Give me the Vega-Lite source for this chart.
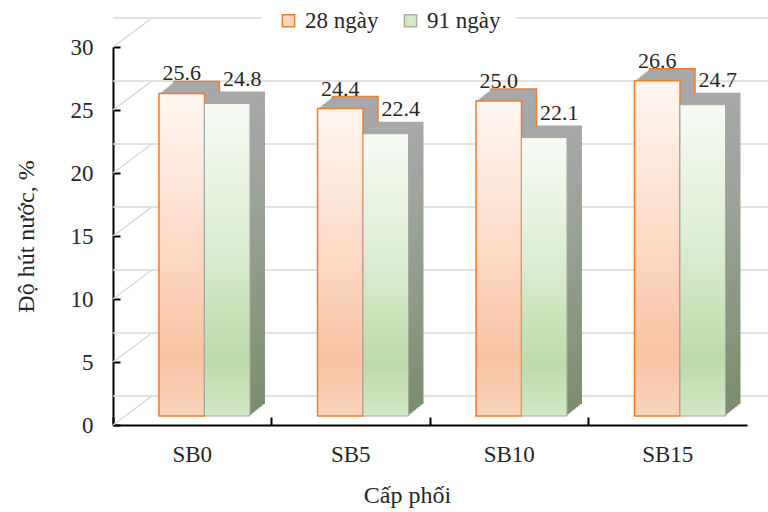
{
  "$schema": "https://vega.github.io/schema/vega-lite/v6.json",
  "width": 634,
  "height": 378,
  "autosize": {"type": "none"},
  "padding": {"left": 113, "top": 47, "right": 21, "bottom": 87},
  "background": "white",
  "config": {
    "view": {"stroke": null},
    "font": "Liberation Serif, Times New Roman, Times, DejaVu Serif, serif",
    "axis": {
      "labelFont": "Liberation Serif, Times New Roman, Times, DejaVu Serif, serif",
      "titleFont": "Liberation Serif, Times New Roman, Times, DejaVu Serif, serif",
      "labelColor": "#262626",
      "titleColor": "#262626",
      "titleFontWeight": "normal",
      "labelFontSize": 23,
      "titleFontSize": 24,
      "domainColor": "#000000",
      "domainWidth": 2,
      "tickColor": "#000000",
      "tickWidth": 2,
      "grid": false
    }
  },
  "layer": [
    {
      "data": {"values": [{"v": 0}, {"v": 5}, {"v": 10}, {"v": 15}, {"v": 20}, {"v": 25}, {"v": 30}]},
      "layer": [
        {
          "mark": {"type": "rule", "color": "#d9d9d9", "strokeWidth": 1.5, "xOffset": 39, "x2Offset": 39, "yOffset": -29, "y2Offset": -29},
          "encoding": {
            "y": {
              "field": "v", "type": "quantitative",
              "scale": {"domain": [0, 30]},
              "axis": {"title": "Độ hút nước, %", "values": [0, 5, 10, 15, 20, 25, 30], "tickSize": -7, "labelPadding": 27, "titlePadding": 32}
            }
          }
        },
        {
          "mark": {"type": "rule", "color": "#d9d9d9", "strokeWidth": 1.5, "y2Offset": -29},
          "encoding": {
            "x": {"value": 0},
            "x2": {"value": 39},
            "y": {"field": "v", "type": "quantitative"},
            "y2": {"field": "v"}
          }
        }
      ]
    },
    {
      "data": {
        "values": [
          {"cp": "SB0", "series": "28 ngày", "v": 25.6},
          {"cp": "SB0", "series": "91 ngày", "v": 24.8},
          {"cp": "SB5", "series": "28 ngày", "v": 24.4},
          {"cp": "SB5", "series": "91 ngày", "v": 22.4},
          {"cp": "SB10", "series": "28 ngày", "v": 25.0},
          {"cp": "SB10", "series": "91 ngày", "v": 22.1},
          {"cp": "SB15", "series": "28 ngày", "v": 26.6},
          {"cp": "SB15", "series": "91 ngày", "v": 24.7}
        ]
      },
      "encoding": {
        "x": {
          "field": "cp", "type": "nominal", "sort": ["SB0", "SB5", "SB10", "SB15"],
          "scale": {"paddingInner": 0, "paddingOuter": 0},
          "axis": {"title": "Cấp phối", "labelAngle": 0, "bandPosition": 0, "tickSize": -8, "labelPadding": 26, "titlePadding": 17, "titleX": 294}
        },
        "y": {"field": "v", "type": "quantitative"}
      },
      "layer": [
        {
          "mark": {"type": "bar", "opacity": 0, "width": {"band": 0.287}},
          "encoding": {
            "y": {"field": "v", "type": "quantitative", "stack": null},
            "fill": {
              "field": "series", "type": "nominal",
              "scale": {"domain": ["28 ngày", "91 ngày"], "range": ["#fad6c1", "#d4e8c6"]},
              "legend": {"orient": "none", "legendX": 149, "legendY": -53, "direction": "horizontal", "title": null, "fillColor": "white", "padding": 15, "symbolType": "square", "symbolSize": 150, "symbolStrokeWidth": 1.5, "symbolOpacity": 1, "labelFontSize": 23, "labelFont": "Liberation Serif, Times New Roman, Times, DejaVu Serif, serif", "labelColor": "#262626", "columnPadding": 20, "labelOffset": 5}
            },
            "stroke": {
              "field": "series", "type": "nominal",
              "scale": {"domain": ["28 ngày", "91 ngày"], "range": ["#ed7d31", "#a9b59e"]},
              "legend": {"orient": "none", "legendX": 149, "legendY": -53, "direction": "horizontal", "title": null, "fillColor": "white", "padding": 15, "symbolType": "square", "symbolSize": 150, "symbolStrokeWidth": 1.5, "symbolOpacity": 1, "labelFontSize": 23, "labelFont": "Liberation Serif, Times New Roman, Times, DejaVu Serif, serif", "labelColor": "#262626", "columnPadding": 20, "labelOffset": 5}
            }
          }
        },
        {
          "transform": [{"filter": "datum.series == '28 ngày'"}],
          "layer": [
            {"mark": {"type": "bar", "width": {"band": 0.287}, "xOffset": 4.5, "yOffset": -21, "y2Offset": -21, "stroke": "#ed7d31", "strokeWidth": 1.5, "fill": {"gradient": "linear", "x1": 0, "y1": 0, "x2": 0, "y2": 1, "stops": [{"offset": 0, "color": "#a8a8a8"}, {"offset": 1, "color": "#a39a94"}]}}},
            {"mark": {"type": "bar", "width": {"band": 0.287}, "xOffset": 2.625, "yOffset": -19.5, "y2Offset": -19.5, "fill": {"gradient": "linear", "x1": 0, "y1": 0, "x2": 0, "y2": 1, "stops": [{"offset": 0, "color": "#a8a8a8"}, {"offset": 1, "color": "#a39a94"}]}}},
            {"mark": {"type": "bar", "width": {"band": 0.287}, "xOffset": 0.75, "yOffset": -18, "y2Offset": -18, "fill": {"gradient": "linear", "x1": 0, "y1": 0, "x2": 0, "y2": 1, "stops": [{"offset": 0, "color": "#a8a8a8"}, {"offset": 1, "color": "#a39a94"}]}}},
            {"mark": {"type": "bar", "width": {"band": 0.287}, "xOffset": -1.125, "yOffset": -16.5, "y2Offset": -16.5, "fill": {"gradient": "linear", "x1": 0, "y1": 0, "x2": 0, "y2": 1, "stops": [{"offset": 0, "color": "#a8a8a8"}, {"offset": 1, "color": "#a39a94"}]}}},
            {"mark": {"type": "bar", "width": {"band": 0.287}, "xOffset": -3, "yOffset": -15, "y2Offset": -15, "fill": {"gradient": "linear", "x1": 0, "y1": 0, "x2": 0, "y2": 1, "stops": [{"offset": 0, "color": "#a8a8a8"}, {"offset": 1, "color": "#a39a94"}]}}},
            {"mark": {"type": "bar", "width": {"band": 0.287}, "xOffset": -4.875, "yOffset": -13.5, "y2Offset": -13.5, "fill": {"gradient": "linear", "x1": 0, "y1": 0, "x2": 0, "y2": 1, "stops": [{"offset": 0, "color": "#a8a8a8"}, {"offset": 1, "color": "#a39a94"}]}}},
            {"mark": {"type": "bar", "width": {"band": 0.287}, "xOffset": -6.75, "yOffset": -12, "y2Offset": -12, "fill": {"gradient": "linear", "x1": 0, "y1": 0, "x2": 0, "y2": 1, "stops": [{"offset": 0, "color": "#a8a8a8"}, {"offset": 1, "color": "#a39a94"}]}}},
            {"mark": {"type": "bar", "width": {"band": 0.287}, "xOffset": -8.625, "yOffset": -10.5, "y2Offset": -10.5, "fill": {"gradient": "linear", "x1": 0, "y1": 0, "x2": 0, "y2": 1, "stops": [{"offset": 0, "color": "#a8a8a8"}, {"offset": 1, "color": "#a39a94"}]}}}
          ]
        },
        {
          "transform": [{"filter": "datum.series == '91 ngày'"}],
          "layer": [
            {"mark": {"type": "bar", "width": {"band": 0.287}, "xOffset": 50, "yOffset": -21, "y2Offset": -21, "fill": {"gradient": "linear", "x1": 0, "y1": 0, "x2": 0, "y2": 1, "stops": [{"offset": 0, "color": "#a8a8a8"}, {"offset": 0.3, "color": "#9da39a"}, {"offset": 1, "color": "#7a8e6c"}]}}},
            {"mark": {"type": "bar", "width": {"band": 0.287}, "xOffset": 48.125, "yOffset": -19.5, "y2Offset": -19.5, "fill": {"gradient": "linear", "x1": 0, "y1": 0, "x2": 0, "y2": 1, "stops": [{"offset": 0, "color": "#a8a8a8"}, {"offset": 0.3, "color": "#9da39a"}, {"offset": 1, "color": "#7a8e6c"}]}}},
            {"mark": {"type": "bar", "width": {"band": 0.287}, "xOffset": 46.25, "yOffset": -18, "y2Offset": -18, "fill": {"gradient": "linear", "x1": 0, "y1": 0, "x2": 0, "y2": 1, "stops": [{"offset": 0, "color": "#a8a8a8"}, {"offset": 0.3, "color": "#9da39a"}, {"offset": 1, "color": "#7a8e6c"}]}}},
            {"mark": {"type": "bar", "width": {"band": 0.287}, "xOffset": 44.375, "yOffset": -16.5, "y2Offset": -16.5, "fill": {"gradient": "linear", "x1": 0, "y1": 0, "x2": 0, "y2": 1, "stops": [{"offset": 0, "color": "#a8a8a8"}, {"offset": 0.3, "color": "#9da39a"}, {"offset": 1, "color": "#7a8e6c"}]}}},
            {"mark": {"type": "bar", "width": {"band": 0.287}, "xOffset": 42.5, "yOffset": -15, "y2Offset": -15, "fill": {"gradient": "linear", "x1": 0, "y1": 0, "x2": 0, "y2": 1, "stops": [{"offset": 0, "color": "#a8a8a8"}, {"offset": 0.3, "color": "#9da39a"}, {"offset": 1, "color": "#7a8e6c"}]}}},
            {"mark": {"type": "bar", "width": {"band": 0.287}, "xOffset": 40.625, "yOffset": -13.5, "y2Offset": -13.5, "fill": {"gradient": "linear", "x1": 0, "y1": 0, "x2": 0, "y2": 1, "stops": [{"offset": 0, "color": "#a8a8a8"}, {"offset": 0.3, "color": "#9da39a"}, {"offset": 1, "color": "#7a8e6c"}]}}},
            {"mark": {"type": "bar", "width": {"band": 0.287}, "xOffset": 38.75, "yOffset": -12, "y2Offset": -12, "fill": {"gradient": "linear", "x1": 0, "y1": 0, "x2": 0, "y2": 1, "stops": [{"offset": 0, "color": "#a8a8a8"}, {"offset": 0.3, "color": "#9da39a"}, {"offset": 1, "color": "#7a8e6c"}]}}},
            {"mark": {"type": "bar", "width": {"band": 0.287}, "xOffset": 36.875, "yOffset": -10.5, "y2Offset": -10.5, "fill": {"gradient": "linear", "x1": 0, "y1": 0, "x2": 0, "y2": 1, "stops": [{"offset": 0, "color": "#a8a8a8"}, {"offset": 0.3, "color": "#9da39a"}, {"offset": 1, "color": "#7a8e6c"}]}}}
          ]
        },
        {
          "transform": [{"filter": "datum.series == '28 ngày'"}],
          "mark": {"type": "bar", "width": {"band": 0.287}, "xOffset": -10.5, "yOffset": -9, "y2Offset": -9, "stroke": "#ed7d31", "strokeWidth": 1.5, "fill": {"gradient": "linear", "x1": 0, "y1": 0, "x2": 0, "y2": 1, "stops": [{"offset": 0, "color": "#fff7f2"}, {"offset": 0.45, "color": "#fcdcc9"}, {"offset": 0.82, "color": "#f8c3a3"}, {"offset": 1, "color": "#fad4bd"}]}}
        },
        {
          "transform": [{"filter": "datum.series == '91 ngày'"}],
          "mark": {"type": "bar", "width": {"band": 0.287}, "xOffset": 35, "yOffset": -9, "y2Offset": -9, "stroke": "#a6aaa2", "strokeWidth": 1, "fill": {"gradient": "linear", "x1": 0, "y1": 0, "x2": 0, "y2": 1, "stops": [{"offset": 0, "color": "#f6fbf3"}, {"offset": 0.45, "color": "#dcedd2"}, {"offset": 0.82, "color": "#bcdba8"}, {"offset": 1, "color": "#d3e8c6"}]}}
        },
        {
          "transform": [{"filter": "datum.series == '28 ngày'"}],
          "mark": {"type": "text", "font": "Liberation Serif, Times New Roman, Times, DejaVu Serif, serif", "fontSize": 22, "color": "#262626", "baseline": "alphabetic", "align": "center", "dx": -10.5, "dy": -22},
          "encoding": {"text": {"field": "v", "type": "quantitative", "format": ".1f"}}
        },
        {
          "transform": [{"filter": "datum.series == '91 ngày'"}],
          "mark": {"type": "text", "font": "Liberation Serif, Times New Roman, Times, DejaVu Serif, serif", "fontSize": 22, "color": "#262626", "baseline": "alphabetic", "align": "center", "dx": 50, "dy": -27},
          "encoding": {"text": {"field": "v", "type": "quantitative", "format": ".1f"}}
        }
      ]
    }
  ]
}
